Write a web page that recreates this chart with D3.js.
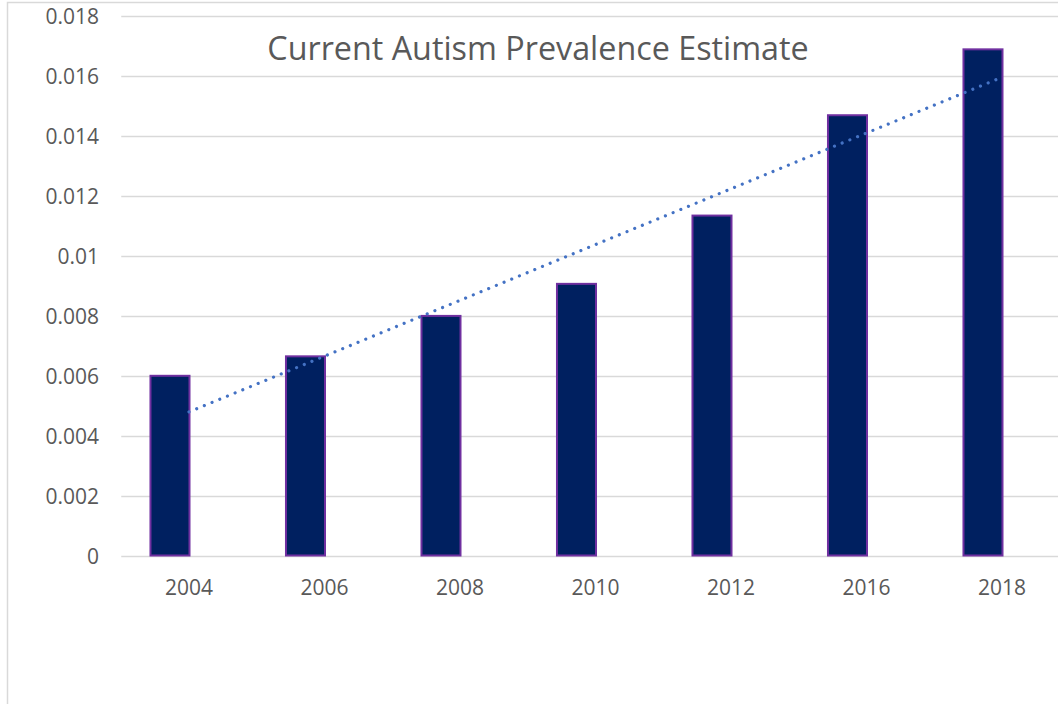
<!DOCTYPE html>
<html>
<head>
<meta charset="utf-8">
<script src="https://cdn.jsdelivr.net/npm/d3@7"></script>
<style>
  body { margin: 0; background: #fff; }
  svg { display: block; font-family: "Open Sans", sans-serif; }
</style>
</head>
<body>
<div id="chart-area"><svg></svg></div>
<script>
const years = ["2004", "2006", "2008", "2010", "2012", "2016", "2018"];
const prevalence = [0.006, 0.00665, 0.008, 0.00907, 0.01135, 0.0147, 0.0169];
const yTicks = [0, 0.002, 0.004, 0.006, 0.008, 0.01, 0.012, 0.014, 0.016, 0.018];
const title = "Current Autism Prevalence Estimate";

const chartSize = { width: 1058, height: 704 };
const plot = { left: 121.25, right: 1069.75, top: 16.4, bottom: 555.5 };
const grey = "#595959";

const svg = d3
  .select("#chart-area svg")
  .attr("width", chartSize.width)
  .attr("height", chartSize.height);

// chart frame (extends past the window on right and bottom)
svg.append("rect")
  .attr("x", 7.5)
  .attr("y", 2.5)
  .attr("width", 1200)
  .attr("height", 900)
  .attr("fill", "#fff")
  .attr("stroke", "#d9d9d9")
  .attr("stroke-width", 1.5);

const x = d3.scaleBand().domain(years).range([plot.left, plot.right]);
const y = d3.scaleLinear().domain([0, 0.018]).range([plot.bottom, plot.top]);

const tickFormat = d => String(+d.toFixed(3));

// gridlines
svg.append("g")
  .selectAll("line")
  .data(yTicks)
  .join("line")
  .attr("x1", plot.left)
  .attr("x2", plot.right)
  .attr("y1", d => Math.round(y(d)) + 0.5)
  .attr("y2", d => Math.round(y(d)) + 0.5)
  .attr("stroke", "#d9d9d9")
  .attr("stroke-width", 1.3);

// y axis labels
const yAxis = d3.axisLeft(y).tickValues(yTicks).tickFormat(tickFormat).tickSize(0).tickPadding(0);
svg.append("g")
  .attr("transform", "translate(99,0)")
  .call(yAxis)
  .call(g => g.select(".domain").remove())
  .call(g => g.selectAll("text")
    .attr("fill", grey)
    .attr("font-size", 21)
    .attr("font-family", "Open Sans, sans-serif")
    .attr("dy", "0.36em"));

// x axis labels
const xAxis = d3.axisBottom(x).tickSize(0).tickPadding(0);
svg.append("g")
  .attr("transform", `translate(0,${plot.bottom})`)
  .call(xAxis)
  .call(g => g.select(".domain").remove())
  .call(g => g.selectAll("text")
    .attr("fill", grey)
    .attr("font-size", 21)
    .attr("font-family", "Open Sans, sans-serif")
    .attr("y", 39)
    .attr("dy", 0));

// bars: sit in the left half of each category
const barW = x.bandwidth() * 0.288;
svg.append("g")
  .selectAll("rect")
  .data(years)
  .join("rect")
  .attr("x", (d) => x(d) + x.bandwidth() / 2 - barW + 0.5)
  .attr("y", (d, i) => y(prevalence[i]))
  .attr("width", barW)
  .attr("height", (d, i) => y(0) - y(prevalence[i]))
  .attr("fill", "#002060")
  .attr("stroke", "#7030a0")
  .attr("stroke-width", 2);

// linear trendline (least squares over category index)
const n = prevalence.length;
const xs = d3.range(1, n + 1);
const mx = d3.mean(xs);
const my = d3.mean(prevalence);
const slope = d3.sum(xs, (v, i) => (v - mx) * (prevalence[i] - my)) / d3.sum(xs, v => (v - mx) ** 2);
const icpt = my - slope * mx;
const trend = [
  [years[0], icpt + slope * 1],
  [years[n - 1], icpt + slope * n]
];

svg.append("path")
  .datum(trend)
  .attr("d", d3.line().x(d => x(d[0]) + x.bandwidth() / 2).y(d => y(d[1])))
  .attr("fill", "none")
  .attr("stroke", "#4472c4")
  .attr("stroke-width", 3.2)
  .attr("stroke-linecap", "round")
  .attr("stroke-dasharray", "0.01 8.3");

// title
svg.append("text")
  .attr("x", 538)
  .attr("y", 60)
  .attr("text-anchor", "middle")
  .attr("fill", grey)
  .attr("font-size", 32.3)
  .text(title);
</script>
</body>
</html>
